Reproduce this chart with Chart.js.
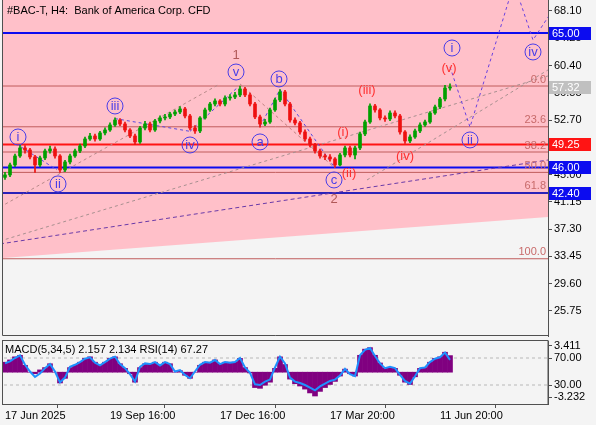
<!DOCTYPE html>
<html>
<head>
<meta charset="utf-8">
<script src="https://cdn.jsdelivr.net/npm/chart.js@4.4.1/dist/chart.umd.min.js"></script>
<style>
  body { margin: 0; background: #f4f4f4; width: 596px; height: 425px; overflow: hidden; position: relative; }
  #main { position: absolute; left: 0; top: 0; }
  #ind { position: absolute; left: 0; top: 337px; }
</style>
</head>
<body>
<canvas id="main" width="596" height="337"></canvas>
<canvas id="ind" width="596" height="88"></canvas>
<script>
// H4 candles (one candle every few bars)
const opens = [44.60, 44.94, 46.35, 47.62, 48.75, 48.47, 47.48, 46.35, 47.34, 48.33,
  48.61, 47.62, 45.64, 46.77, 47.62, 48.33, 49.03, 50.02, 50.44, 50.02,
  50.87, 51.29, 52.00, 52.70, 52.14, 51.29, 50.44, 49.60, 51.57, 52.14,
  51.29, 52.56, 52.99, 53.13, 53.55, 53.83, 54.26, 53.27, 51.57, 51.15,
  52.99, 54.12, 54.96, 55.39, 54.96, 55.81, 55.95, 56.24, 57.08, 56.24,
  54.96, 53.13, 52.14, 52.42, 54.12, 55.53, 56.66, 54.96, 52.70, 52.28,
  51.01, 50.02, 49.17, 48.33, 47.62, 47.48, 47.20, 46.35, 47.76, 48.75,
  47.76, 48.75, 50.73, 52.42, 54.68, 54.12, 52.99, 52.85, 53.69, 53.27,
  51.01, 49.74, 50.30, 51.15, 52.00, 52.42, 53.69, 54.54, 55.67, 57.22];
const closes = [44.94, 46.35, 47.62, 48.75, 48.47, 47.48, 46.35, 47.34, 48.33, 48.61,
  47.62, 45.64, 46.77, 47.62, 48.33, 49.03, 50.02, 50.44, 50.02, 50.87,
  51.29, 52.00, 52.70, 52.14, 51.29, 50.44, 49.60, 51.57, 52.14, 51.29,
  52.56, 52.99, 53.13, 53.55, 53.83, 54.26, 53.27, 51.57, 51.15, 52.99,
  54.12, 54.96, 55.39, 54.96, 55.81, 55.95, 56.24, 57.08, 56.24, 54.96,
  53.13, 52.14, 52.42, 54.12, 55.53, 56.66, 54.96, 52.70, 52.28, 51.01,
  50.02, 49.17, 48.33, 47.62, 47.48, 47.20, 46.35, 47.76, 48.75, 47.76,
  48.75, 50.73, 52.42, 54.68, 54.12, 52.99, 52.85, 53.69, 53.27, 51.01,
  49.74, 50.30, 51.15, 52.00, 52.42, 53.69, 54.54, 55.67, 57.22, 57.32];
const highs = [45.3, 46.6, 47.9, 49.2, 49.1, 48.7, 47.7, 47.6, 48.6, 49.0,
  48.9, 47.8, 47.0, 47.9, 48.6, 49.3, 50.3, 50.8, 50.7, 51.1,
  51.6, 52.3, 53.0, 52.9, 52.4, 51.5, 50.7, 51.8, 52.5, 52.4,
  52.8, 53.3, 53.5, 53.8, 54.1, 54.6, 54.5, 53.5, 51.9, 53.2,
  54.4, 55.2, 55.7, 55.6, 56.1, 56.3, 56.6, 57.5, 57.3, 56.5,
  55.2, 53.4, 52.8, 54.4, 55.8, 57.0, 56.9, 55.2, 53.0, 52.5,
  51.3, 50.3, 49.4, 48.6, 47.9, 47.8, 47.4, 48.0, 49.0, 49.0,
  49.0, 51.0, 52.7, 55.0, 54.9, 54.3, 53.3, 54.0, 54.0, 53.5,
  51.2, 50.6, 51.4, 52.3, 52.7, 53.9, 54.8, 55.9, 57.6, 57.8];
const lows = [44.3, 44.7, 46.1, 47.4, 48.0, 47.2, 45.3, 46.1, 47.1, 48.0,
  47.3, 45.3, 45.4, 46.5, 47.4, 48.1, 48.8, 49.8, 49.7, 49.8,
  50.6, 51.1, 51.8, 51.9, 51.0, 50.2, 49.2, 49.4, 51.3, 51.0,
  51.1, 52.3, 52.7, 52.9, 53.3, 53.6, 53.0, 51.3, 50.8, 50.9,
  52.8, 53.9, 54.7, 54.7, 54.7, 55.5, 55.7, 56.0, 56.0, 54.7,
  52.9, 51.7, 51.9, 52.2, 53.9, 55.3, 54.7, 52.4, 52.0, 50.7,
  49.7, 48.9, 48.0, 47.3, 47.1, 46.9, 46.0, 46.2, 47.5, 47.5,
  47.2, 48.5, 50.5, 52.2, 53.8, 52.7, 52.5, 52.6, 53.0, 50.7,
  49.4, 49.5, 50.1, 50.9, 51.8, 52.2, 53.5, 54.3, 55.4, 56.9];

// MACD(5,34,5) histogram and RSI(14)
const macdHist = [1.3, 1.6, 2.0, 2.2, 0.9, 0.0, -0.2, 0.3, 0.6, 1.1,
  0.0, -1.4, -0.8, 0.6, 0.9, 1.3, 1.8, 2.0, 1.3, 0.9,
  1.3, 1.8, 2.0, 1.1, 0.5, -0.2, -1.3, 0.6, 1.1, 1.1,
  1.3, 0.9, 1.3, 1.1, 0.0, 0.2, -0.4, -0.8, 0.0, 0.9,
  1.3, 1.3, 1.6, 1.1, 1.3, 1.3, 1.3, 1.8, 0.6, -0.1,
  -2.0, -2.1, -1.7, -1.3, 0.5, 2.0, 1.0, -0.9, -1.5, -1.8,
  -2.2, -2.7, -3.1, -2.5, -2.0, -1.6, -1.2, -0.5, 0.4, -0.2,
  -0.5, 2.2, 3.0, 3.2, 2.2, 1.2, 0.5, 0.6, 0.5, -0.4,
  -1.3, -1.6, -0.6, 0.5, 0.6, 1.3, 1.8, 2.0, 2.6, 2.16];
const rsiValues = [62, 65, 70, 74, 60, 50, 42, 47, 55, 61,
  50, 34, 41, 57, 60, 64, 69, 71, 63, 59,
  64, 69, 72, 61, 55, 46, 35, 57, 62, 61,
  64, 59, 64, 61, 50, 52, 45, 40, 50, 60,
  64, 63, 67, 61, 64, 63, 64, 70, 56, 48,
  31, 30, 35, 38, 56, 72, 62, 41, 35, 33,
  30, 26, 22, 28, 32, 36, 38, 44, 54, 46,
  43, 74, 82, 85, 73, 62, 55, 57, 55, 45,
  36, 32, 43, 55, 56, 64, 69, 71, 78, 67.27];

// axes
const priceTicks = [68.10, 64.25, 60.40, 56.55, 52.70, 48.85, 45.00, 41.15, 37.30, 33.45, 29.60, 25.75];
const dateTickIdx = [0, 21, 43, 65, 87];
const dateLabels = ['17 Jun 2025', '19 Sep 16:00', '17 Dec 16:00', '17 Mar 20:00', '11 Jun 20:00'];
const rsiLevels = [70, 30];
const macdAxisLabels = [3.411, -3.232];

// levels and analysis drawings
const levelPrices = [65.00, 49.25, 46.00, 42.40];
const bidPrice = 57.32;
const fibTop = 57.5;
const fibBottom = 33.1;
const fibRatios = [0, 23.6, 38.2, 50, 61.8, 100];
const pinkZone = [[-0.4, 33.21], [108.6, 39.0]];
const trendL1 = [[-1, 40.4], [42.6, 57.65]];
const trendL2 = [[-1, 35.61], [108.6, 58.92]];
const trendL3 = [[-1, 35.19], [108.6, 47.05]];
const trendL4 = [[72.4, 44.23], [108.6, 59.77]];
const wave12Line = [[47, 57.8], [66, 45.9]];
const subWaveLines = [
  [[3.2, 48.9], [10.4, 45.65]],
  [[22, 52.9], [37, 51.1]],
  [[37, 51.1], [46.5, 57.3]],
  [[51, 51.8], [55, 57.0]],
  [[55, 57.0], [66, 45.9]]
];
const projPath = [[89, 60.2], [93, 51.7], [101.8, 72.0], [105.6, 64.0], [111, 69.8]];

const circleLabels = ['i', 'ii', 'iii', 'iv', 'v', 'a', 'b', 'c', 'i', 'ii', 'iv'];
const circleIdx = [2.6, 10.6, 22, 37, 46.2, 51, 54.8, 65.8, 89.4, 93, 105.6];
const circlePrice = [50.3, 43.67, 54.68, 49.17, 59.48, 49.6, 58.5, 44.23, 62.87, 49.88, 62.31];
const parenLabels = ['(i)', '(ii)', '(iii)', '(iv)', '(v)'];
const parenIdx = [67.6, 68.8, 72.4, 80, 88.8];
const parenPrice = [51.0, 45.22, 56.94, 47.62, 60.05];
const bigLabels = ['1', '2'];
const bigIdx = [46.2, 65.8];
const bigPrice = [61.89, 41.55];

const X_MIN = -0.4, X_MAX = 108.6;
const FONT = '"Liberation Sans", Arial, sans-serif';
Chart.defaults.font.family = FONT;
Chart.defaults.font.size = 11;
Chart.defaults.color = '#000';

const fibPrice = r => fibTop - r / 100 * (fibTop - fibBottom);
const pts = arr => arr.map(p => ({x: p[0], y: p[1]}));
const hline = v => [{x: X_MIN - 1, y: v}, {x: X_MAX + 1, y: v}];
const noPad = s => { s.paddingTop = 0; s.paddingBottom = 0; };

const upColor = '#00a000', downColor = '#ee1010';
const candleColors = closes.map((c, i) => c >= opens[i] ? upColor : downColor);

const dashed = (data, color, dash, order) => ({
  type: 'line', data: pts(data), borderColor: color, borderWidth: 1, borderDash: dash,
  pointRadius: 0, fill: false, order: order
});

const mainDatasets = [
  {type: 'line', data: pts(pinkZone), borderWidth: 0, pointRadius: 0,
   fill: 'end', backgroundColor: '#ffc0c9', order: 20},
  ...fibRatios.map(r => ({type: 'line', data: hline(fibPrice(r)), borderColor: '#c05c5c',
   borderWidth: 1, pointRadius: 0, order: 15})),
  {type: 'line', data: hline(levelPrices[0]), borderColor: '#0c0cf0', borderWidth: 2, pointRadius: 0, order: 12},
  {type: 'line', data: hline(levelPrices[1]), borderColor: '#ff1414', borderWidth: 2, pointRadius: 0, order: 12},
  {type: 'line', data: hline(levelPrices[2]), borderColor: '#0c0cf0', borderWidth: 2, pointRadius: 0, order: 12},
  {type: 'line', data: hline(levelPrices[3]), borderColor: '#2a22b8', borderWidth: 2, pointRadius: 0, order: 12},
  dashed(trendL1, '#b88a8a', [3, 3], 10),
  dashed(trendL2, '#a89090', [3, 3], 10),
  dashed(trendL3, '#6a3aa8', [4, 3], 10),
  dashed(trendL4, '#a89090', [3, 3], 10),
  dashed(wave12Line, '#c08080', [3, 3], 9),
  ...subWaveLines.map(l => dashed(l, '#5a4ae0', [3, 3], 9)),
  dashed(projPath, '#6a40e0', [3, 3], 9),
  {type: 'bar', data: closes.map((c, i) => ({x: i, y: [lows[i], highs[i]]})),
   backgroundColor: candleColors, barThickness: 1, grouped: false, order: 3},
  {type: 'bar', data: closes.map((c, i) => ({x: i, y: [opens[i], c]})),
   backgroundColor: candleColors, barThickness: 3, minBarLength: 1, grouped: false, order: 2}
];

const mainOverlay = {
  id: 'mainOverlay',
  afterDraw(chart) {
    const {ctx, chartArea: a, scales: {x, y}} = chart;
    ctx.save();
    ctx.strokeStyle = '#505050';
    ctx.lineWidth = 1;
    ctx.beginPath();
    ctx.moveTo(a.left - 0.5, a.top);
    ctx.lineTo(a.left - 0.5, a.bottom - 0.5);
    ctx.lineTo(a.right, a.bottom - 0.5);
    ctx.stroke();

    ctx.font = '11px ' + FONT;
    ctx.textBaseline = 'middle';
    ctx.textAlign = 'left';
    ctx.fillStyle = '#000';
    ctx.fillText('#BAC-T, H4:  Bank of America Corp. CFD', a.left + 4, 11);

    // fib labels
    ctx.fillStyle = '#c86a6a';
    ctx.textAlign = 'right';
    ctx.textBaseline = 'bottom';
    fibRatios.forEach(r => ctx.fillText(r.toFixed(1), a.right - 2, y.getPixelForValue(fibPrice(r)) - 1));

    // circled wave labels
    ctx.textAlign = 'center';
    ctx.textBaseline = 'middle';
    ctx.font = '13px ' + FONT;
    ctx.strokeStyle = '#4a3ee8';
    ctx.fillStyle = '#4a3ee8';
    circleLabels.forEach((t, i) => {
      const px = x.getPixelForValue(circleIdx[i]), py = y.getPixelForValue(circlePrice[i]);
      ctx.beginPath();
      ctx.arc(px, py, 8, 0, Math.PI * 2);
      ctx.stroke();
      ctx.fillText(t, px, py + 0.5);
    });
    ctx.font = '13px ' + FONT;
    ctx.fillStyle = '#ff3030';
    parenLabels.forEach((t, i) => ctx.fillText(t, x.getPixelForValue(parenIdx[i]), y.getPixelForValue(parenPrice[i])));
    ctx.fillStyle = '#b05858';
    bigLabels.forEach((t, i) => ctx.fillText(t, x.getPixelForValue(bigIdx[i]), y.getPixelForValue(bigPrice[i])));

    // price tags on the axis
    const tags = [[levelPrices[0], '#0c0cf0'], [bidPrice, '#c0c0c0'], [levelPrices[1], '#ff1414'],
                  [levelPrices[2], '#0c0cf0'], [levelPrices[3], '#0c0cf0']];
    ctx.font = '11px ' + FONT;
    ctx.textAlign = 'left';
    tags.forEach(([v, col]) => {
      const py = Math.round(y.getPixelForValue(v));
      ctx.fillStyle = col;
      ctx.fillRect(a.right + 1, py - 6, 42, 13);
      ctx.fillStyle = '#fff';
      ctx.fillText(v.toFixed(2), a.right + 4, py + 1);
    });
    ctx.restore();
  }
};

new Chart(document.getElementById('main'), {
  type: 'line',
  data: {datasets: mainDatasets},
  options: {
    responsive: false,
    animation: false,
    layout: {padding: {left: 3, top: 0, right: 0, bottom: 1}},
    plugins: {legend: {display: false}, tooltip: {enabled: false}},
    scales: {
      x: {type: 'linear', min: X_MIN, max: X_MAX, offset: false, display: false},
      y: {
        position: 'right', min: 22.19, max: 69.65,
        afterBuildTicks: s => { s.ticks = priceTicks.map(v => ({value: v})); },
        afterFit: s => { s.width = 48; noPad(s); },
        ticks: {callback: v => v.toFixed(2), padding: 2, color: '#000'},
        grid: {drawOnChartArea: false, tickLength: 4, color: '#505050'},
        border: {color: '#505050'}
      }
    }
  },
  plugins: [mainOverlay]
});

// indicator window
const rsiMin = 1.85, rsiMax = 95.2, macdMin = -4.14, macdMax = 4.06;
const macdToRsi = v => rsiMin + (v - macdMin) / (macdMax - macdMin) * (rsiMax - rsiMin);
const indTicks = [macdToRsi(macdAxisLabels[0]), rsiLevels[0], rsiLevels[1], macdToRsi(macdAxisLabels[1])];
const indTickText = [macdAxisLabels[0].toFixed(3), rsiLevels[0].toFixed(2), rsiLevels[1].toFixed(2), macdAxisLabels[1].toFixed(3)];

const indOverlay = {
  id: 'indOverlay',
  afterDraw(chart) {
    const {ctx, chartArea: a} = chart;
    ctx.save();
    ctx.strokeStyle = '#505050';
    ctx.lineWidth = 1;
    ctx.strokeRect(a.left - 0.5, a.top - 0.5, a.right - a.left + 0.5, a.bottom - a.top + 1);
    ctx.font = '11px ' + FONT;
    ctx.fillStyle = '#000';
    ctx.textAlign = 'left';
    ctx.textBaseline = 'middle';
    ctx.fillText('MACD(5,34,5) 2.157 2.134 RSI(14) 67.27', a.left + 2, a.top + 9);
    ctx.restore();
  }
};

new Chart(document.getElementById('ind'), {
  type: 'line',
  data: {
    datasets: [
      ...rsiLevels.map(v => ({type: 'line', yAxisID: 'yr', data: hline(v), borderColor: '#b8b8b8',
        borderWidth: 1, borderDash: [3, 3], pointRadius: 0, order: 10})),
      {type: 'bar', yAxisID: 'ym', data: macdHist.map((v, i) => ({x: i, y: v})),
       backgroundColor: '#800080', barThickness: 5, grouped: false, order: 5},
      {type: 'line', yAxisID: 'yr', data: rsiValues.map((v, i) => ({x: i, y: v})),
       borderColor: '#1e90ff', borderWidth: 2, pointRadius: 0, tension: 0, order: 1}
    ]
  },
  options: {
    responsive: false,
    animation: false,
    layout: {padding: {left: 3, top: 4, right: 0, bottom: 0}},
    plugins: {legend: {display: false}, tooltip: {enabled: false}},
    scales: {
      x: {
        type: 'linear', min: X_MIN, max: X_MAX, offset: false,
        afterBuildTicks: s => { s.ticks = dateTickIdx.map(v => ({value: v})); },
        afterFit: s => { s.height = 21; s.paddingLeft = 0; s.paddingRight = 0; },
        ticks: {callback: (v, i) => dateLabels[i], align: 'start', maxRotation: 0, autoSkip: false, padding: 1, color: '#000'},
        grid: {drawOnChartArea: false, tickLength: 4, color: '#505050'},
        border: {color: '#505050'}
      },
      yr: {
        position: 'right', min: rsiMin, max: rsiMax,
        afterBuildTicks: s => { s.ticks = indTicks.map(v => ({value: v})); },
        afterFit: s => { s.width = 48; noPad(s); },
        ticks: {callback: (v, i) => indTickText[i], padding: 2, color: '#000'},
        grid: {drawOnChartArea: false, tickLength: 4, color: '#505050'},
        border: {color: '#505050'}
      },
      ym: {display: false, min: macdMin, max: macdMax}
    }
  },
  plugins: [indOverlay]
});
</script>
</body>
</html>
